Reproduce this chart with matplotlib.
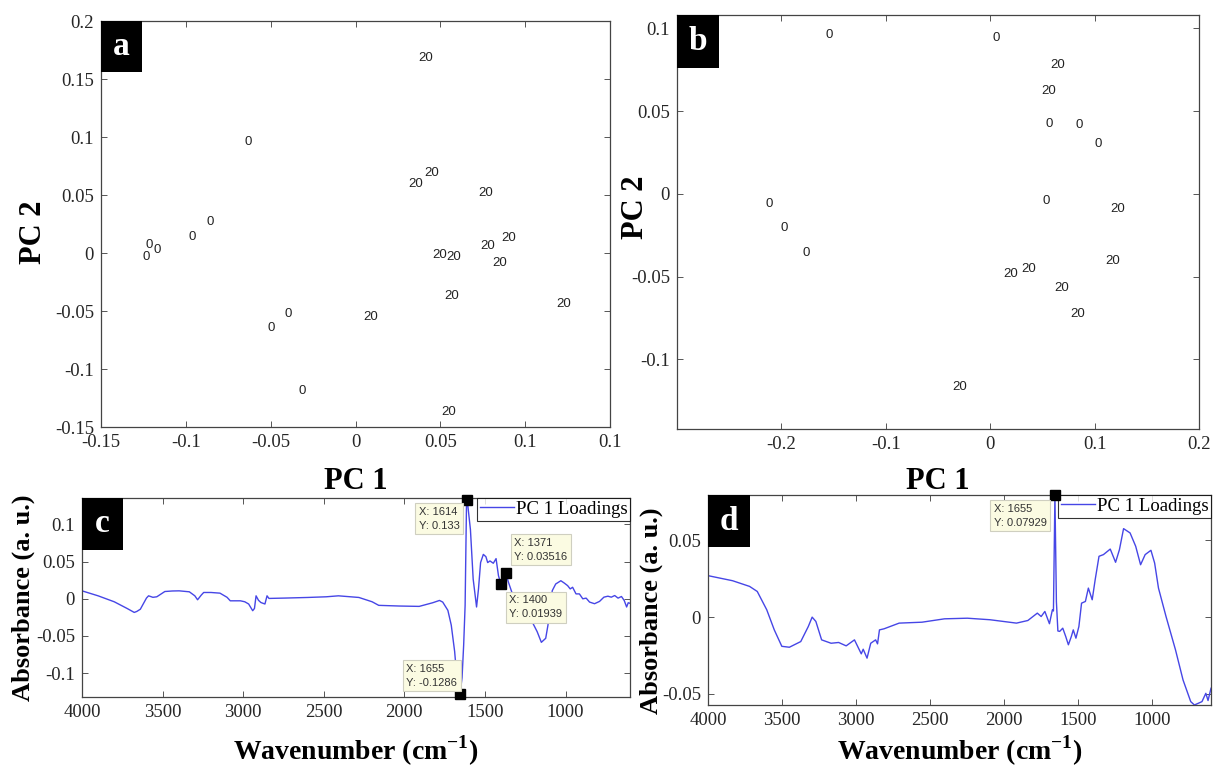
import matplotlib
matplotlib.use("Agg")
import matplotlib.pyplot as plt
from matplotlib.patches import Rectangle

# ---- panel a: PCA scores (labels are the group names) ----
a_x = [0.0415, -0.0635, 0.045, 0.0357, 0.077, -0.0856, -0.0961, 0.0905, 0.0782,
       -0.1218, -0.1167, -0.1234, 0.0497, 0.0579, 0.0847, 0.0567, 0.1227, -0.0397,
       0.0089, -0.0495, -0.0313, 0.0551]
a_y = [0.1677, 0.096, 0.0688, 0.0593, 0.0516, 0.0267, 0.0138, 0.0126, 0.0057,
       0.0066, 0.0023, -0.0037, -0.0014, -0.0037, -0.0086, -0.0367, -0.0439, -0.053,
       -0.055, -0.0648, -0.119, -0.137]
a_lab = ["20", "0", "20", "20", "20", "0", "0", "20", "20",
         "0", "0", "0", "20", "20", "20", "20", "20", "0",
         "20", "0", "0", "20"]

# ---- panel b ----
b_x = [-0.1546, 0.0059, 0.0648, 0.0563, 0.0567, 0.085, 0.1034, -0.2116, 0.0537,
       0.1225, -0.197, -0.176, 0.1178, 0.0372, 0.0195, 0.068, 0.0839, -0.029]
b_y = [0.0957, 0.094, 0.078, 0.0624, 0.0419, 0.0415, 0.0302, -0.006, -0.0046,
       -0.0093, -0.0205, -0.0359, -0.0407, -0.0453, -0.0487, -0.0568, -0.0725, -0.1168]
b_lab = ["0", "0", "20", "20", "0", "0", "0", "0", "0",
         "20", "0", "0", "20", "20", "20", "20", "20", "20"]

# ---- panel c: PC1 loadings ----
c_wn = [4000, 3900, 3800, 3720, 3676, 3660, 3638, 3600, 3587, 3560, 3536, 3486, 3440,
        3397, 3334, 3300, 3283, 3260, 3245, 3200, 3144, 3100, 3080, 3017, 2990, 2966,
        2941, 2930, 2920, 2905, 2890, 2865, 2852, 2840, 2738, 2600, 2485, 2409, 2282,
        2200, 2159, 2033, 1908, 1824, 1782, 1762, 1730, 1709, 1688, 1674, 1655, 1642,
        1632, 1623, 1618, 1614, 1606, 1590, 1573, 1552, 1540, 1527, 1510, 1494, 1483,
        1469, 1448, 1431, 1416, 1400, 1385, 1371, 1354, 1333, 1301, 1259, 1207, 1176,
        1150, 1123, 1109, 1096, 1082, 1061, 1029, 1008, 987, 971, 956, 935, 914, 893,
        872, 851, 820, 789, 762, 737, 716, 695, 674, 653, 636, 621, 611, 600]
c_val = [0.0107, 0.004, -0.004, -0.013, -0.0183, -0.017, -0.014, 0.001, 0.004, 0.002,
         0.0027, 0.0098, 0.0105, 0.0107, 0.0094, 0.004, -0.0013, 0.005, 0.0085, 0.0085,
         0.0076, 0.002, -0.0027, -0.0027, -0.004, -0.007, -0.016, -0.013, 0.004, -0.002,
         -0.005, -0.007, 0.004, 0.0005, 0.001, 0.0018, 0.0027, 0.004, 0.0018, -0.004,
         -0.0088, -0.0097, -0.0102, -0.0053, -0.0022, -0.0044, -0.0155, -0.0354, -0.0708,
         -0.1062, -0.1286, -0.1062, -0.062, -0.0088, 0.0708, 0.133, 0.125, 0.0929, 0.0265,
         -0.011, 0.0133, 0.0487, 0.0597, 0.0566, 0.0487, 0.0509, 0.0478, 0.054, 0.031,
         0.01939, 0.031, 0.03516, 0.0221, 0.0088, -0.0088, -0.0177, -0.031, -0.0442,
         -0.0585, -0.0531, -0.0354, -0.0088, 0.0111, 0.0199, 0.0243, 0.0212, 0.0177,
         0.0133, 0.0155, 0.0066, 0.0066, 0.0, 0.0009, -0.0044, -0.0066, -0.0035, 0.0022,
         0.0035, 0.0022, 0.0044, 0.0009, 0.0031, -0.0022, -0.011, -0.0053, -0.006]
c_tip_wn = [1614, 1371, 1400, 1655]
c_tip_val = [0.133, 0.03516, 0.01939, -0.1286]

# ---- panel d: PC1 loadings ----
d_wn = [4000, 3834, 3719, 3667, 3603, 3552, 3501, 3450, 3373, 3322, 3296, 3271, 3232,
        3168, 3117, 3066, 3010, 2964, 2951, 2925, 2900, 2867, 2854, 2841, 2810, 2708,
        2554, 2401, 2247, 2094, 1915, 1838, 1774, 1748, 1723, 1692, 1672, 1665, 1655,
        1645, 1635, 1623, 1602, 1582, 1564, 1544, 1531, 1513, 1493, 1475, 1449, 1429,
        1403, 1383, 1357, 1327, 1281, 1245, 1219, 1191, 1147, 1109, 1076, 1045, 1006,
        981, 955, 904, 840, 789, 737, 712, 661, 635, 620, 600]
d_val = [0.027, 0.0237, 0.02, 0.0167, 0.0048, -0.0083, -0.019, -0.0196, -0.0159,
         -0.0061, 0.0, -0.0028, -0.0148, -0.017, -0.0165, -0.0187, -0.0148, -0.0239,
         -0.0209, -0.0267, -0.017, -0.0148, -0.0174, -0.0083, -0.0076, -0.0039, -0.0033,
         -0.0011, -0.0007, -0.0017, -0.0039, -0.0022, 0.0026, 0.0004, 0.0037, -0.0043,
         0.0048, 0.004, 0.07929, 0.01, -0.009, -0.0093, -0.0072, -0.0126, -0.018, -0.0126,
         -0.0083, -0.0137, -0.0061, 0.0091, 0.0102, 0.0189, 0.0113, 0.0243, 0.0396,
         0.0407, 0.0443, 0.0357, 0.0439, 0.0576, 0.0548, 0.0461, 0.0341, 0.0407, 0.0435,
         0.0352, 0.0189, 0.0004, -0.0213, -0.0409, -0.055, -0.0572, -0.055, -0.0496,
         -0.0543, -0.0463]
d_tip_wn = [1655]
d_tip_val = [0.07929]

plt.rcParams["font.family"] = ["Liberation Serif", "DejaVu Serif"]
plt.rcParams["mathtext.fontset"] = "custom"
plt.rcParams["mathtext.rm"] = "Liberation Serif"
plt.rcParams["mathtext.bf"] = "Liberation Serif:bold"

W, H = 1213, 767
fig = plt.figure(figsize=(W / 100, H / 100), dpi=100)


def add_ax(l, t, r, b):
    # pixel box of the axes in the reference -> figure fraction
    return fig.add_axes([l / W, 1 - b / H, (r - l) / W, (b - t) / H])


def style(ax):
    for s in ax.spines.values():
        s.set_color("#444444")
        s.set_linewidth(0.9)
    ax.tick_params(direction="in", top=True, right=True, length=4, width=0.7,
                   color="#555555", labelsize=13.5, labelcolor="#262626", pad=5)


def tag(ax, letter, wpx, hpx, axw, axh):
    ax.add_patch(Rectangle((0, 1), wpx / axw, -hpx / axh, transform=ax.transAxes,
                           facecolor="black", edgecolor="none", zorder=5, clip_on=False))
    ax.text(wpx / axw / 2, 1 - hpx / axh / 2, letter, transform=ax.transAxes,
            color="white", fontsize=24, fontweight="bold", ha="center", va="center", zorder=6)


lab_font = dict(fontsize=22, fontweight="bold")
tip_box = dict(boxstyle="square,pad=0.3", facecolor="#fbfbe2", edgecolor="#cfcfc0", lw=0.8)

# panel a
ax = add_ax(101, 21, 610, 427)
style(ax)
for x, y, s in zip(a_x, a_y, a_lab):
    ax.text(x, y, s, fontsize=9.5, family="Liberation Sans", color="#222222",
            ha="center", va="center")
ax.set_xlim(-0.15, 0.15)
ax.set_ylim(-0.15, 0.2)
ax.set_xticks([-0.15, -0.1, -0.05, 0, 0.05, 0.1, 0.15])
ax.set_xticklabels(["-0.15", "-0.1", "-0.05", "0", "0.05", "0.1", "0.1"])
ax.set_yticks([-0.15, -0.1, -0.05, 0, 0.05, 0.1, 0.15, 0.2])
ax.set_yticklabels(["-0.15", "-0.1", "-0.05", "0", "0.05", "0.1", "0.15", "0.2"])
ax.set_xlabel("PC 1", va="center", **lab_font)
ax.xaxis.set_label_coords(0.5, -0.135)
ax.set_ylabel("PC 2", va="center", **lab_font)
ax.yaxis.set_label_coords(-0.133, 0.48)
tag(ax, "a", 41, 51, 509, 406)

# panel b
ax = add_ax(677, 15, 1199, 429)
style(ax)
for x, y, s in zip(b_x, b_y, b_lab):
    ax.text(x, y, s, fontsize=9.5, family="Liberation Sans", color="#222222",
            ha="center", va="center")
ax.set_xlim(-0.3, 0.2)
ax.set_ylim(-0.142, 0.108)
ax.set_xticks([-0.2, -0.1, 0, 0.1, 0.2])
ax.set_xticklabels(["-0.2", "-0.1", "0", "0.1", "0.2"])
ax.set_yticks([-0.1, -0.05, 0, 0.05, 0.1])
ax.set_yticklabels(["-0.1", "-0.05", "0", "0.05", "0.1"])
ax.set_xlabel("PC 1", va="center", **lab_font)
ax.xaxis.set_label_coords(0.5, -0.128)
ax.set_ylabel("PC 2", va="center", **lab_font)
ax.yaxis.set_label_coords(-0.08, 0.536)
tag(ax, "b", 42, 53, 522, 414)


def loadings(ax, wn, val, twn, tval, offs):
    ax.plot(wn, val, color="#4646e6", lw=1.0, label="PC 1 Loadings")
    ax.plot(twn, tval, "s", color="black", ms=6.5, clip_on=False, zorder=7)
    for w, v, (dx, dy, ha, va) in zip(twn, tval, offs):
        ax.annotate(f"X: {w}\nY: {v:g}", xy=(w, v), xytext=(dx, dy),
                    textcoords="offset points", ha=ha, va=va, multialignment="left",
                    fontsize=8, family="Liberation Sans", color="#333333",
                    linespacing=1.5, bbox=tip_box, zorder=8)
    ax.set_xlim(4000, 600)
    ax.set_xticks([4000, 3500, 3000, 2500, 2000, 1500, 1000])
    leg = ax.legend(loc="upper right", fontsize=13.5, frameon=True, fancybox=False,
                    borderaxespad=0, borderpad=0.15, handlelength=1.8,
                    handletextpad=0.1)
    leg.get_frame().set_edgecolor("black")
    leg.get_frame().set_linewidth(0.8)
    ax.set_xlabel(r"Wavenumber (cm$^{\mathbf{-1}}$)", fontsize=20, fontweight="bold",
                  va="center")
    ax.set_ylabel("Absorbance (a. u.)", fontsize=19, fontweight="bold", va="center")


# panel c
ax = add_ax(82, 498, 630, 697)
style(ax)
loadings(ax, c_wn, c_val, c_tip_wn, c_tip_val,
         [(-5, -5, "right", "top"), (6, 8, "left", "bottom"),
          (6, -8, "left", "top"), (-2, 5, "right", "bottom")])
ax.set_ylim(-0.132, 0.1355)
ax.set_yticks([-0.1, -0.05, 0, 0.05, 0.1])
ax.set_yticklabels(["-0.1", "-0.05", "0", "0.05", "0.1"])
ax.xaxis.set_label_coords(0.5, -0.27)
ax.yaxis.set_label_coords(-0.108, 0.5)
tag(ax, "c", 41, 52, 548, 199)

# panel d
ax = add_ax(708, 495, 1211, 705)
style(ax)
loadings(ax, d_wn, d_val, d_tip_wn, d_tip_val, [(-6, -6, "right", "top")])
ax.set_ylim(-0.0572, 0.0795)
ax.set_yticks([-0.05, 0, 0.05])
ax.set_yticklabels(["-0.05", "0", "0.05"])
ax.xaxis.set_label_coords(0.5, -0.22)
ax.yaxis.set_label_coords(-0.113, 0.45)
tag(ax, "d", 42, 52, 503, 210)

fig.savefig("out.png", dpi=100)
